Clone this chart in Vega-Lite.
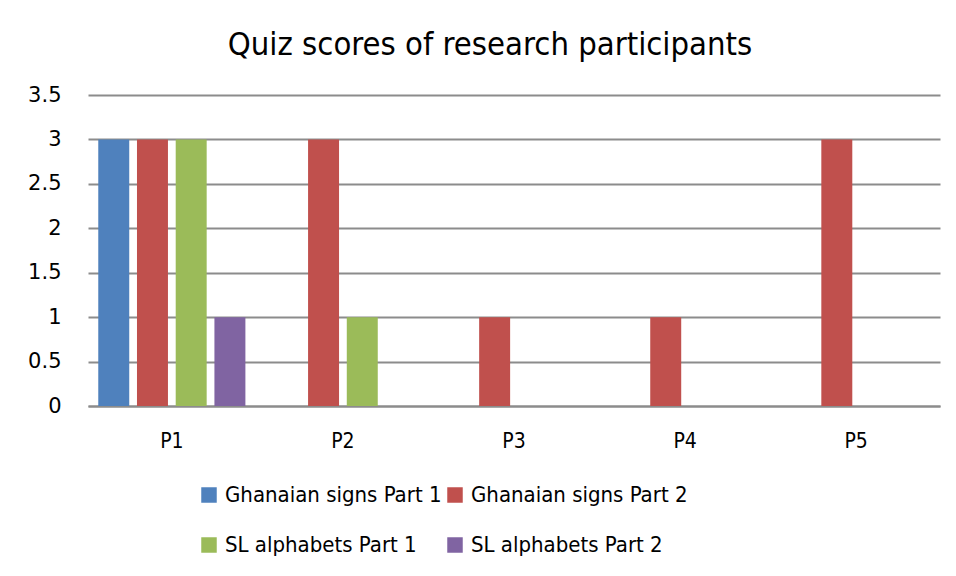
{
  "$schema": "https://vega.github.io/schema/vega-lite/v6.json",
  "width": 852,
  "height": 311,
  "autosize": {"type": "none"},
  "padding": {"left": 88, "top": 95, "right": 16, "bottom": 170},
  "background": "white",
  "title": {
    "text": "Quiz scores of research participants",
    "font": "DejaVu Sans Condensed",
    "fontSize": 32.5,
    "fontWeight": "normal",
    "color": "#000000",
    "anchor": "middle",
    "dx": -24,
    "offset": 23
  },
  "data": {
    "values": [
      {"participant": "P1", "series": "Ghanaian signs Part 1", "score": 3},
      {"participant": "P1", "series": "Ghanaian signs Part 2", "score": 3},
      {"participant": "P1", "series": "SL alphabets Part 1", "score": 3},
      {"participant": "P1", "series": "SL alphabets Part 2", "score": 1},
      {"participant": "P2", "series": "Ghanaian signs Part 1", "score": 0},
      {"participant": "P2", "series": "Ghanaian signs Part 2", "score": 3},
      {"participant": "P2", "series": "SL alphabets Part 1", "score": 1},
      {"participant": "P2", "series": "SL alphabets Part 2", "score": 0},
      {"participant": "P3", "series": "Ghanaian signs Part 1", "score": 0},
      {"participant": "P3", "series": "Ghanaian signs Part 2", "score": 1},
      {"participant": "P3", "series": "SL alphabets Part 1", "score": 0},
      {"participant": "P3", "series": "SL alphabets Part 2", "score": 0},
      {"participant": "P4", "series": "Ghanaian signs Part 1", "score": 0},
      {"participant": "P4", "series": "Ghanaian signs Part 2", "score": 1},
      {"participant": "P4", "series": "SL alphabets Part 1", "score": 0},
      {"participant": "P4", "series": "SL alphabets Part 2", "score": 0},
      {"participant": "P5", "series": "Ghanaian signs Part 1", "score": 0},
      {"participant": "P5", "series": "Ghanaian signs Part 2", "score": 3},
      {"participant": "P5", "series": "SL alphabets Part 1", "score": 0},
      {"participant": "P5", "series": "SL alphabets Part 2", "score": 0}
    ]
  },
  "mark": {"type": "bar"},
  "encoding": {
    "x": {
      "field": "participant",
      "type": "nominal",
      "scale": {"paddingInner": 0.14, "paddingOuter": 0.06},
      "axis": {
        "title": null,
        "labelAngle": 0,
        "labelFont": "DejaVu Sans Condensed",
        "labelFontSize": 21,
        "labelColor": "#000000",
        "labelPadding": 24,
        "ticks": false,
        "domainColor": "#8c8c8c",
        "domainWidth": 2,
        "grid": false
      }
    },
    "xOffset": {
      "field": "series",
      "type": "nominal",
      "scale": {"paddingInner": 0.2, "paddingOuter": 0}
    },
    "y": {
      "field": "score",
      "type": "quantitative",
      "scale": {"domain": [0, 3.5], "nice": false},
      "axis": {
        "title": null,
        "values": [0, 0.5, 1, 1.5, 2, 2.5, 3, 3.5],
        "format": "~g",
        "labelFont": "DejaVu Sans",
        "labelFontSize": 21,
        "labelColor": "#000000",
        "labelPadding": 27,
        "ticks": false,
        "domain": false,
        "grid": true,
        "gridColor": "#8c8c8c",
        "gridWidth": 2
      }
    },
    "color": {
      "field": "series",
      "type": "nominal",
      "scale": {
        "domain": ["Ghanaian signs Part 1", "Ghanaian signs Part 2", "SL alphabets Part 1", "SL alphabets Part 2"],
        "range": ["#4f81bd", "#c0504d", "#9bbb59", "#8064a2"]
      },
      "legend": {
        "title": null,
        "orient": "none",
        "legendX": 110,
        "legendY": 389,
        "columns": 2,
        "direction": "horizontal",
        "symbolType": "square",
        "symbolSize": 240,
        "symbolStrokeWidth": 0,
        "labelFont": "DejaVu Sans Condensed",
        "labelFontSize": 22,
        "labelColor": "#000000",
        "labelOffset": 5,
        "labelLimit": 400,
        "rowPadding": 28,
        "columnPadding": 2
      }
    }
  },
  "config": {
    "view": {"stroke": null}
  }
}
